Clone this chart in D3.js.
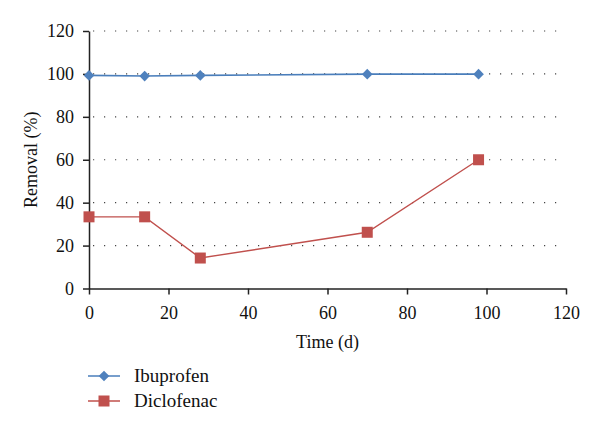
<!DOCTYPE html>
<html><head><meta charset="utf-8">
<script src="https://cdn.jsdelivr.net/npm/d3@7"></script>
<style>body{margin:0;background:#fff}</style>
</head><body>
<svg id="c" width="600" height="434"></svg>
<script>
const days = [0, 14, 28, 70, 98];
const ibuprofen = [99.3, 99.0, 99.3, 99.9, 99.9];
const diclofenac = [33.4, 33.4, 14.2, 26.2, 60.0];
const xTicks = [0, 20, 40, 60, 80, 100, 120];
const yTicks = [0, 20, 40, 60, 80, 100, 120];
const seriesNames = ["Ibuprofen", "Diclofenac"];

const FONT = "Liberation Serif";
const svg = d3.select("#c");
const x = d3.scaleLinear().domain([0, 120]).range([89, 566]);
const y = d3.scaleLinear().domain([0, 120]).range([288.5, 31]);

// gridlines
svg.append("g").selectAll("line").data(yTicks.filter(d => d > 0)).join("line")
  .attr("x1", x(0) + 4).attr("x2", x(120)).attr("y1", d => y(d)).attr("y2", d => y(d))
  .attr("stroke", "#444").attr("stroke-width", 1.2).attr("stroke-dasharray", "1.2,9.8");

// axes
const xAxis = svg.append("g").attr("transform", `translate(0,${y(0)})`)
  .call(d3.axisBottom(x).tickValues(xTicks).tickSize(6).tickSizeOuter(0).tickPadding(12));
const yAxis = svg.append("g").attr("transform", `translate(${x(0)},0)`)
  .call(d3.axisLeft(y).tickValues(yTicks).tickSize(6).tickSizeOuter(0).tickPadding(9));
[xAxis, yAxis].forEach(a => {
  a.attr("font-family", FONT).attr("font-size", 18);
  a.select(".domain").attr("stroke", "#222").attr("stroke-width", 1.5);
  a.selectAll(".tick line").attr("stroke", "#222").attr("stroke-width", 1.5);
  a.selectAll("text").attr("fill", "#111");
});

// labels
svg.append("text").attr("x", x(60)).attr("y", 348).attr("text-anchor", "middle")
  .attr("font-family", FONT).attr("font-size", 18).attr("fill", "#111").text("Time (d)");
svg.append("text").attr("transform", `translate(37,${y(60)}) rotate(-90)`).attr("text-anchor", "middle")
  .attr("font-family", FONT).attr("font-size", 18).attr("fill", "#111").text("Removal (%)");

const line = d3.line().x(d => x(d[0])).y(d => y(d[1]));
const ibuData = days.map((d, i) => [d, ibuprofen[i]]);
const dicData = days.map((d, i) => [d, diclofenac[i]]);
const blue = "#4a7ebb", red = "#c0504d";

svg.append("path").datum(ibuData).attr("d", line).attr("fill", "none").attr("stroke", blue).attr("stroke-width", 1.6);
svg.append("path").datum(dicData).attr("d", line).attr("fill", "none").attr("stroke", red).attr("stroke-width", 1.4);

const diamond = d3.symbol().type(d3.symbolDiamond2).size(72);
svg.append("g").selectAll("path").data(ibuData).join("path")
  .attr("d", diamond).attr("transform", d => `translate(${x(d[0])},${y(d[1])})`).attr("fill", "#4f81bd");
svg.append("g").selectAll("rect").data(dicData).join("rect")
  .attr("x", d => x(d[0]) - 5.5).attr("y", d => y(d[1]) - 5.5).attr("width", 11).attr("height", 11)
  .attr("fill", red);

// legend
const leg = svg.append("g");
const legY = [376, 401];
seriesNames.forEach((n, i) => {
  const col = i === 0 ? blue : red;
  leg.append("line").attr("x1", 88).attr("x2", 120).attr("y1", legY[i]).attr("y2", legY[i]).attr("stroke", col).attr("stroke-width", 1.5);
  if (i === 0) leg.append("path").attr("d", diamond).attr("transform", `translate(104,${legY[i]})`).attr("fill", "#4f81bd");
  else leg.append("rect").attr("x", 98.5).attr("y", legY[i] - 5.5).attr("width", 11).attr("height", 11).attr("fill", red);
  leg.append("text").attr("x", 134).attr("y", legY[i] + 6).attr("font-family", FONT).attr("font-size", 19).attr("fill", "#111").text(n);
});
</script>
</body></html>
